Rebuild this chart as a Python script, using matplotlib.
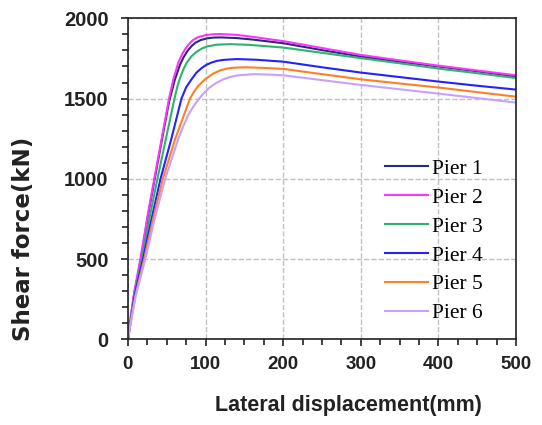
import matplotlib
matplotlib.use("Agg")
import matplotlib.pyplot as plt
from matplotlib.ticker import MultipleLocator

# displacement (mm) / shear force (kN)
pier1_x = [0, 4, 8, 16.8, 25.5, 34.5, 46, 53, 60, 67, 72, 77, 82, 87, 94, 102, 110, 120, 140, 160, 200, 250, 300, 350, 400, 450, 500]
pier1_y = [0, 145, 280, 500, 760, 1000, 1300, 1480, 1610, 1710, 1760, 1798, 1827, 1848, 1865, 1875, 1880, 1881, 1877, 1868, 1845, 1802, 1762, 1730, 1700, 1670, 1638]

pier2_x = [0, 4, 8, 16, 25, 34, 43.5, 53, 58.5, 65, 70, 75, 80, 84, 90, 100, 110, 119, 140, 160, 200, 250, 300, 350, 400, 450, 500]
pier2_y = [0, 150, 290, 500, 760, 1000, 1250, 1500, 1620, 1725, 1778, 1817, 1847, 1865, 1882, 1895, 1901, 1902, 1897, 1885, 1858, 1815, 1772, 1738, 1705, 1675, 1645]

pier3_x = [0, 4, 9, 18, 28, 38, 49, 60, 64, 68, 72, 76, 82, 88, 95, 102, 115, 132, 155, 200, 250, 300, 350, 400, 450, 500]
pier3_y = [0, 135, 290, 500, 760, 1000, 1250, 1500, 1580, 1640, 1688, 1725, 1764, 1790, 1811, 1825, 1836, 1839, 1835, 1818, 1785, 1752, 1720, 1687, 1658, 1628]

pier4_x = [0, 4, 9, 19.5, 30, 42, 56, 69, 75, 82, 88, 95, 101, 108, 115, 123, 140, 165, 200, 250, 300, 350, 400, 450, 500]
pier4_y = [0, 125, 280, 500, 740, 1000, 1250, 1500, 1570, 1620, 1660, 1690, 1710, 1725, 1735, 1741, 1746, 1742, 1730, 1695, 1662, 1634, 1606, 1580, 1556]

pier5_x = [0, 4, 10, 21, 32, 45, 61, 80, 85, 90, 95, 100, 110, 119, 127, 135, 152, 175, 200, 250, 300, 350, 400, 450, 500]
pier5_y = [0, 120, 280, 500, 740, 1000, 1250, 1500, 1542, 1575, 1600, 1622, 1656, 1676, 1686, 1692, 1695, 1691, 1685, 1652, 1620, 1594, 1569, 1540, 1512]

pier6_x = [0, 4, 10, 22.4, 34, 48, 65, 72, 78, 85, 91, 98, 105, 114, 123, 132, 142, 162, 180, 200, 250, 300, 350, 400, 450, 500]
pier6_y = [0, 110, 270, 500, 740, 1000, 1250, 1335, 1400, 1455, 1495, 1535, 1568, 1598, 1620, 1635, 1645, 1652, 1650, 1645, 1615, 1585, 1558, 1531, 1503, 1475]

labels = ['Pier 1', 'Pier 2', 'Pier 3', 'Pier 4', 'Pier 5', 'Pier 6']
colors = ['#262b80', '#ff33ff', '#2db36b', '#2222ff', '#ff7f27', '#c9a0ff']
series = [(pier1_x, pier1_y), (pier2_x, pier2_y), (pier3_x, pier3_y),
          (pier4_x, pier4_y), (pier5_x, pier5_y), (pier6_x, pier6_y)]

fig = plt.figure(figsize=(5.42, 4.25), dpi=100)
ax = fig.add_axes([0.236, 0.2016, 0.716, 0.7553])

for (xs, ys), c, lab in zip(series, colors, labels):
    ax.plot(xs, ys, color=c, linewidth=1.5, label=lab, solid_joinstyle='round')

ax.set_xlim(0, 500)
ax.set_ylim(0, 2000)
ax.xaxis.set_major_locator(MultipleLocator(100))
ax.xaxis.set_minor_locator(MultipleLocator(25))
ax.yaxis.set_major_locator(MultipleLocator(500))
ax.yaxis.set_minor_locator(MultipleLocator(100))

ax.grid(True, which='major', linestyle='--', color='#c0c0c0', linewidth=1.0)
ax.set_axisbelow(True)

for sp in ax.spines.values():
    sp.set_linewidth(1.2)
    sp.set_color('#222222')

ax.tick_params(which='major', length=5, width=1.2, color='#222222')
ax.tick_params(which='minor', length=4, width=1.2, color='#222222')
ax.tick_params(axis='x', which='major', pad=7)
ax.tick_params(axis='y', which='major', pad=9)
for t in ax.get_xticklabels():
    t.set_fontfamily('Liberation Sans')
    t.set_fontweight('bold')
    t.set_fontsize(13.5)
    t.set_color('#222222')
for t in ax.get_yticklabels():
    t.set_fontfamily('Liberation Sans')
    t.set_fontweight('bold')
    t.set_fontsize(14.5)
    t.set_color('#222222')

ax.set_xlabel('Lateral displacement(mm)', family='Liberation Sans', fontweight='bold',
              fontsize=15.5, color='#222222')
ax.set_ylabel('Shear force(kN)', family='DejaVu Sans', fontweight='bold',
              fontsize=16.5, color='#222222')
ax.xaxis.set_label_coords(0.568, -0.175)
ax.yaxis.set_label_coords(-0.24, 0.312)

ax.legend(loc='center left', bbox_to_anchor=(0.662, 0.306), frameon=False,
          prop={'family': 'Liberation Serif', 'size': 15.5},
          handlelength=2.0, handletextpad=0.2, borderpad=0, borderaxespad=0,
          labelspacing=0.41)

fig.savefig('out.png', dpi=100)
